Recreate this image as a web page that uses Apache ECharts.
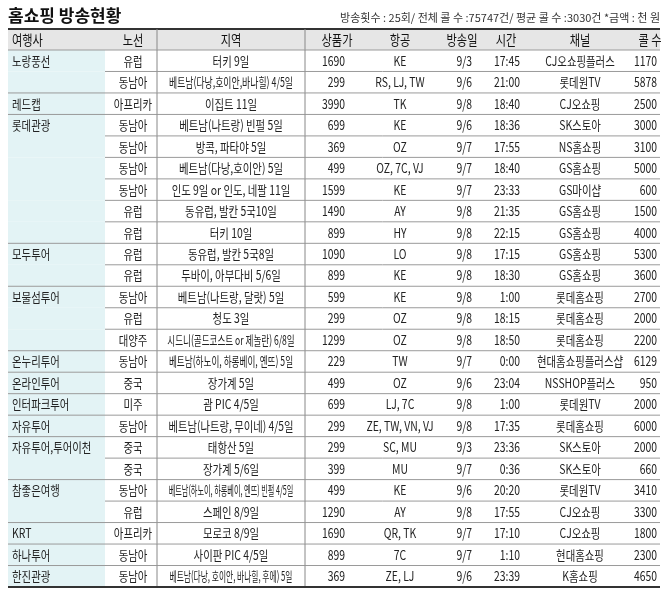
<!DOCTYPE html>
<html><head><meta charset="utf-8">
<script src="https://cdn.jsdelivr.net/npm/echarts@6/dist/echarts.min.js"></script>
<style>html,body{margin:0;padding:0;background:#fff}#main{width:669px;height:596px}</style>
</head><body><div id="main"></div>
<script>
var groups = ['노랑풍선','레드캡','롯데관광','모두투어','보물섬투어','온누리투어','온라인투어','인터파크투어','자유투어','자유투어,투어이천','참좋은여행','KRT','하나투어','한진관광'];
var groupSizes = [2,1,6,2,3,1,1,1,1,2,2,1,1,1];
var routes = ['유럽','동남아','아프리카','동남아','동남아','동남아','동남아','유럽','유럽','유럽','유럽','동남아','유럽','대양주','동남아','중국','미주','동남아','중국','중국','동남아','유럽','아프리카','동남아','동남아'];
var regions = ['터키 9일','베트남(다낭,호이안,바나힐) 4/5일','이집트 11일','베트남(나트랑) 빈펄 5일','방콕, 파타야 5일','베트남(다낭,호이안) 5일','인도 9일 or 인도, 네팔 11일','동유럽, 발칸 5국10일','터키 10일','동유럽, 발칸 5국8일','두바이, 아부다비 5/6일','베트남(나트랑, 달랏) 5일','청도 3일','시드니(골드코스트 or 제놀란) 6/8일','베트남(하노이, 하롱베이, 옌뜨) 5일','장가계 5일','괌 PIC 4/5일','베트남(나트랑, 무이네) 4/5일','태항산 5일','장가계 5/6일','베트남(하노이, 하롱베이, 옌뜨) 빈펄 4/5일','스페인 8/9일','모로코 8/9일','사이판 PIC 4/5일','베트남(다낭, 호이안, 바나힐, 후에) 5일'];
var prices = [1690,299,3990,699,369,499,1599,1490,899,1090,899,599,299,1299,229,499,699,299,299,399,499,1290,1690,899,369];
var airlines = ['KE','RS, LJ, TW','TK','KE','OZ','OZ, 7C, VJ','KE','AY','HY','LO','KE','KE','OZ','OZ','TW','OZ','LJ, 7C','ZE, TW, VN, VJ','SC, MU','MU','KE','AY','QR, TK','7C','ZE, LJ'];
var dates = ['9/3','9/6','9/8','9/6','9/7','9/7','9/7','9/8','9/8','9/8','9/8','9/8','9/8','9/8','9/7','9/6','9/8','9/8','9/3','9/7','9/6','9/8','9/7','9/7','9/6'];
var times = ['17:45','21:00','18:40','18:36','17:55','18:40','23:33','21:35','22:15','17:15','18:30','1:00','18:15','18:50','0:00','23:04','1:00','17:35','23:36','0:36','20:20','17:55','17:10','1:10','23:39'];
var channels = ['CJ오쇼핑플러스','롯데원TV','CJ오쇼핑','SK스토아','NS홈쇼핑','GS홈쇼핑','GS마이샵','GS홈쇼핑','GS홈쇼핑','GS홈쇼핑','GS홈쇼핑','롯데홈쇼핑','롯데홈쇼핑','롯데홈쇼핑','현대홈쇼핑플러스샵','NSSHOP플러스','롯데원TV','롯데홈쇼핑','SK스토아','SK스토아','롯데원TV','CJ오쇼핑','CJ오쇼핑','현대홈쇼핑','K홈쇼핑'];
var calls = [1170,5878,2500,3000,3100,5000,600,1500,4000,5300,3600,2700,2000,2200,6129,950,2000,6000,2000,660,3410,3300,1800,2300,4650];
var headers = ['여행사','노선','지역','상품가','항공','방송일','시간','채널','콜 수'];

var FONT = '"Noto Sans CJK KR", sans-serif';
var SX = 0.8;
var groupStart = {};
var r = 0;
groups.forEach(function (g, i) { groupStart[r] = g; r += groupSizes[i]; });

var rows = routes.map(function (_, i) { return [i]; });

// rough width of a string at 13px, to squeeze long region names into the cell
function estWidth(s) {
  var w = 0;
  for (var k = 0; k < s.length; k++) w += /[\uac00-\ud7a3]/.test(s[k]) ? 13 : (s[k] === ' ' ? 3.5 : 7);
  return w;
}

function txt(x, y, s, align, extra, sx) {
  return { type: 'text', x: x, y: y, scaleX: sx || SX,
    style: Object.assign({ text: String(s), x: 0, y: 0, align: align, verticalAlign: 'middle',
      font: '13px ' + FONT, fill: '#222' }, extra || {}) };
}
function line(x1, y1, x2, y2, c, w) {
  return { type: 'line', shape: { x1: x1, y1: y1, x2: x2, y2: y2 }, style: { stroke: c, lineWidth: w || 1 } };
}

var H = { font: '14px ' + FONT, fill: '#111' };
var chart = echarts.init(document.getElementById('main'));
chart.setOption({
  animation: false,
  grid: { left: 0, right: 0, top: 50, bottom: 9 },
  xAxis: { type: 'value', min: 0, max: 669, show: false },
  yAxis: { type: 'category', inverse: true, data: rows.map(function (d) { return d[0]; }), show: false },
  graphic: [
    { type: 'text', left: 8, top: 7, style: { text: '홈쇼핑 방송현황', font: 'bold 17px ' + FONT, fill: '#111' } },
    { type: 'text', right: 9, top: 12, style: { text: '방송횟수 : 25회/ 전체 콜 수 :75747건/ 평균 콜 수 :3030건 *금액 : 천 원', font: '11px ' + FONT, fill: '#333' } },
    { type: 'rect', shape: { x: 8, y: 29, width: 652, height: 21 }, style: { fill: '#e6e6e6' } },
    line(8, 29, 660, 29, '#333', 2),
    line(157, 29, 157, 50, '#888'), line(305, 29, 305, 50, '#888'),
    txt(12, 40, headers[0], 'left', H),
    txt(133, 40, headers[1], 'center', H),
    txt(231, 40, headers[2], 'center', H),
    txt(337, 40, headers[3], 'center', H),
    txt(400, 40, headers[4], 'center', H),
    txt(462, 40, headers[5], 'center', H),
    txt(506, 40, headers[6], 'center', H),
    txt(580, 40, headers[7], 'center', H),
    txt(650, 40, headers[8], 'center', H)
  ],
  series: [{
    type: 'custom',
    data: rows,
    renderItem: function (params, api) {
      var i = api.value(0);
      var c = api.coord([0, i]);
      var h = api.size([0, 1])[1];
      var yc = c[1], top = yc - h / 2, bot = yc + h / 2;
      var isStart = groupStart[i] !== undefined;
      var rsx = Math.min(SX, 142 / estWidth(regions[i]));
      var els = [
        { type: 'rect', shape: { x: 8, y: top, width: 97, height: h }, style: { fill: '#e3f3f5' } },
        line(isStart ? 8 : 105, top, 660, top, '#9a9a9a'),
        line(157, top, 157, bot, '#888'),
        line(305, top, 305, bot, '#888'),
        txt(133, yc, routes[i], 'center'),
        txt(231, yc, regions[i], 'center', null, rsx),
        txt(345, yc, prices[i], 'right'),
        txt(400, yc, airlines[i], 'center'),
        txt(472, yc, dates[i], 'right'),
        txt(520, yc, times[i], 'right'),
        txt(580, yc, channels[i], 'center'),
        txt(657, yc, calls[i], 'right')
      ];
      if (isStart) els.push(txt(12, yc, groupStart[i], 'left'));
      if (i === routes.length - 1) els.push(line(8, bot, 660, bot, '#333', 2));
      return { type: 'group', children: els };
    }
  }]
});
</script></body></html>
